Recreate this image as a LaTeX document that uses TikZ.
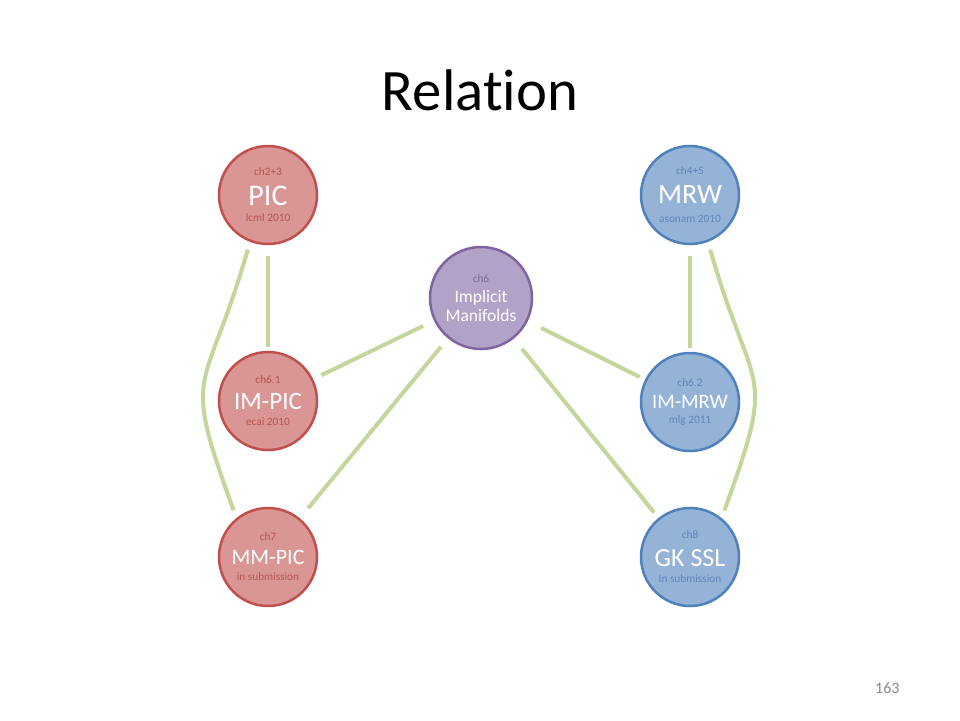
\documentclass[tikz,border=0pt]{standalone}
\usepackage{fontspec}
\setmainfont{Carlito}[Ligatures=NoCommon]
\definecolor{redfill}{HTML}{D99694}
\definecolor{redline}{HTML}{C0504D}
\definecolor{redsub}{HTML}{B85552}
\definecolor{bluefill}{HTML}{95B3D7}
\definecolor{blueline}{HTML}{4F81BD}
\definecolor{bluesub}{HTML}{5F86B9}
\definecolor{purplefill}{HTML}{B3A2C7}
\definecolor{purpleline}{HTML}{8064A2}
\definecolor{purplesub}{HTML}{7D6A9A}
\definecolor{linkgreen}{HTML}{C3D69B}
\definecolor{pagegray}{HTML}{898989}
\newcommand\subline[2]{{\color{#1}#2}}
\newcommand\mainline[2]{{\fontsize{#1}{#1}\selectfont #2}}
\begin{document}
\begin{tikzpicture}[x=1pt,y=1pt,
		ball/.style = {circle, line width=2.5pt, minimum size=98pt, inner sep=0pt, align=center, text=white, font=\fontsize{11.3}{23}\selectfont},
		redball/.style = {ball, draw=redline, fill=redfill},
		blueball/.style = {ball, draw=blueline, fill=bluefill},
		purpleball/.style = {ball, draw=purpleline, fill=purplefill},
		link/.style = {draw=linkgreen, line width=4pt, shorten <=10pt, shorten >=10pt}]
			\useasboundingbox[fill=white] (0,0) rectangle (960,-720);
			\node[font=\fontsize{58.7}{60}\selectfont, anchor=base] (title) at (480,-110) {Relation};
			\node[redball] (pic) at (268,-195) {\subline{redsub}{ch2+3}\\[7pt] \mainline{30}{PIC}\\[-7pt] \subline{redsub}{lcml 2010}};
			\node[redball] (impic) at (268,-401) {\subline{redsub}{ch6.1}\\[3pt] \mainline{25}{IM-PIC}\\[-7pt] \subline{redsub}{ecai 2010}};
			\node[redball] (mmpic) at (268,-557) {\subline{redsub}{ch7}\\[1pt] \mainline{22}{MM-PIC}\\[-7pt] \subline{redsub}{in submission}};
			\node[purpleball, minimum size=102pt] (implicit) at (481,-298) {\subline{purplesub}{ch6}\\[-3pt] \mainline{17.5}{Implicit}\\[-4pt] \mainline{17.5}{Manifolds}};
			\node[blueball] (mrw) at (690,-195) {\subline{bluesub}{ch4+5}\\[6pt] \mainline{28}{MRW}\\[-4pt] \subline{bluesub}{asonam 2010}};
			\node[blueball] (immrw) at (690,-402) {\subline{bluesub}{ch6.2}\\[-1pt] \mainline{20.5}{IM-MRW}\\[-8pt] \subline{bluesub}{mlg 2011}};
			\node[blueball] (gkssl) at (690,-557) {\subline{bluesub}{ch8}\\[5pt] \mainline{26}{GK SSL}\\[-7pt] \subline{bluesub}{In submission}};
			\node[font=\fontsize{16}{16}\selectfont, text=pagegray, anchor=base east] (pagenum) at (903,-693) {163};

			% links between the chapters
			\draw[link, shorten <=11pt, shorten >=4pt] (pic) -- (impic);
			\draw[link, shorten <=11pt, shorten >=4pt] (mrw) -- (immrw);
			\draw[link, shorten <=9pt, shorten >=12pt] (impic) -- (implicit);
			\draw[link, shorten <=11pt, shorten >=13pt] (implicit) -- (mmpic);
			\draw[link, shorten <=15pt, shorten >=6pt] (implicit) -- (immrw);
			\draw[link, shorten <=13pt, shorten >=7pt] (implicit) -- (gkssl);
			\draw[link, shorten <=8pt, shorten >=8pt] (pic.249) .. controls +(254:165) and +(110:165) .. (mmpic.129);
			\draw[link, shorten <=8pt, shorten >=8pt] (mrw.291) .. controls +(286:165) and +(70:165) .. (gkssl.51);
		\end{tikzpicture}
\end{document}
